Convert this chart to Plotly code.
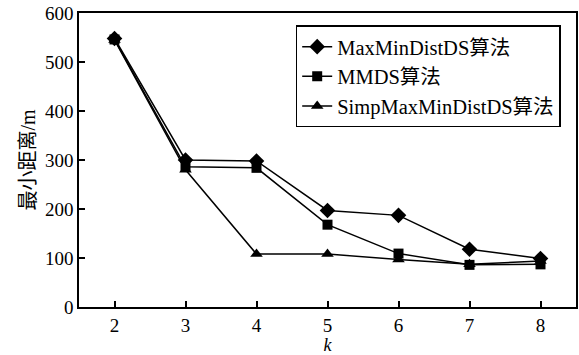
import plotly.graph_objects as go

k = [2, 3, 4, 5, 6, 7, 8]
maxmin = [548, 300, 298, 197, 187, 118, 99]
mmds = [546, 286, 284, 168, 109, 86, 87]
simp = [545, 280, 108, 108, 97, 87, 94]

names = ["MaxMinDistDS算法", "MMDS算法", "SimpMaxMinDistDS算法"]
symbols = ["diamond", "square", "triangle-up"]
sizes = [12, 10, 11]
series = [maxmin, mmds, simp]

font_family = "Liberation Serif, Noto Sans CJK SC, serif"

fig = go.Figure()
for nm, ys, sym, sz in zip(names, series, symbols, sizes):
    fig.add_trace(go.Scatter(
        x=k, y=ys, name=nm, mode="lines+markers",
        line=dict(color="black", width=1.5),
        marker=dict(symbol=sym, size=sz, color="black"),
    ))

fig.update_layout(
    width=579, height=355,
    margin=dict(l=79, r=1, t=13, b=48),
    paper_bgcolor="white", plot_bgcolor="white",
    font=dict(family=font_family, size=19, color="black"),
    showlegend=True,
    legend=dict(
        x=0.436, y=0.958, xanchor="left", yanchor="top",
        bordercolor="black", borderwidth=1.5, bgcolor="white",
        font=dict(family=font_family, size=20.5, color="black"),
    ),
)
fig.update_xaxes(
    range=[1.5, 8.5], tickvals=k, ticks="inside", ticklen=6, tickwidth=1.5,
    tickcolor="black", showline=True, linecolor="black", linewidth=1.5,
    mirror=True, showgrid=False, zeroline=False,
    title=dict(text="<i>k</i>", font=dict(size=18), standoff=6),
)
fig.update_yaxes(
    range=[0, 600], tickvals=[0, 100, 200, 300, 400, 500, 600],
    ticks="inside", ticklen=6, tickwidth=1.5,
    tickcolor="black", showline=True, linecolor="black", linewidth=1.5,
    mirror=True, showgrid=False, zeroline=False,
    title=dict(text="最小距离/m", font=dict(size=20), standoff=4),
)

fig.write_html("out.html")
